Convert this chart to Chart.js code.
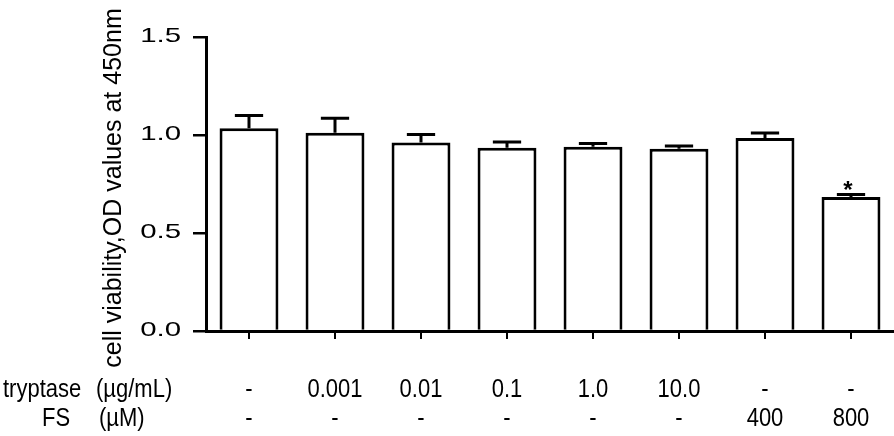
<!DOCTYPE html>
<html>
<head>
<meta charset="utf-8">
<script src="https://cdn.jsdelivr.net/npm/chart.js@4.4.0/dist/chart.umd.min.js"></script>
<style>
    html, body { margin: 0; padding: 0; background: #fff; }
    #wrap { width: 894px; height: 436px; position: relative; }
</style>
</head>
<body>
<div id="wrap"><canvas id="viabilityChart"></canvas></div>
<script>
/* ── Data ── */
const groups = ['g1', 'g2', 'g3', 'g4', 'g5', 'g6', 'g7', 'g8'];
const tryptaseDose = ['-', '0.001', '0.01', '0.1', '1.0', '10.0', '-', '-'];
const fsDose = ['-', '-', '-', '-', '-', '-', '400', '800'];
const meanOD = [1.035, 1.012, 0.962, 0.935, 0.940, 0.930, 0.985, 0.684];
const semOD = [0.065, 0.073, 0.040, 0.029, 0.017, 0.014, 0.025, 0.013];
const significance = ['', '', '', '', '', '', '', '*'];
const yTicks = [0, 0.5, 1.0, 1.5];

const FONT = '"Liberation Sans", Arial, sans-serif';

// text drawn with a non-uniform scale (the source figure was stretched)
function scaledText(ctx, text, x, y, sx, sy) {
    ctx.save();
    ctx.translate(x, y);
    ctx.scale(sx, sy);
    ctx.fillText(text, 0, 0);
    ctx.restore();
}

/* ── Error bars + asterisk ── */
const errorBarPlugin = {
    id: 'errorBars',
    afterDatasetsDraw(chart) {
        const { ctx } = chart;
        const y = chart.scales.y;
        const meta = chart.getDatasetMeta(0);
        ctx.save();
        ctx.strokeStyle = '#000';
        ctx.lineWidth = 3;
        meta.data.forEach((bar, i) => {
            const top = y.getPixelForValue(meanOD[i]);
            const cap = y.getPixelForValue(meanOD[i] + semOD[i]);
            const half = bar.width * 0.24;
            ctx.beginPath();
            ctx.moveTo(bar.x, top);
            ctx.lineTo(bar.x, cap);
            ctx.moveTo(bar.x - half, cap);
            ctx.lineTo(bar.x + half, cap);
            ctx.stroke();
            if (significance[i]) {
                ctx.fillStyle = '#000';
                ctx.font = 'bold 24px ' + FONT;
                ctx.textAlign = 'center';
                ctx.textBaseline = 'alphabetic';
                ctx.fillText(significance[i], bar.x - 3, cap + 4);
            }
        });
        ctx.restore();
    }
};

/* ── Y tick labels, y title, dose table ── */
const labelPlugin = {
    id: 'labels',
    afterDraw(chart) {
        const { ctx } = chart;
        const x = chart.scales.x;
        const y = chart.scales.y;
        ctx.save();
        ctx.fillStyle = '#000';

        // y tick labels, wide digits like the original
        ctx.font = '21px ' + FONT;
        ctx.textAlign = 'right';
        ctx.textBaseline = 'middle';
        yTicks.forEach(v => {
            scaledText(ctx, v.toFixed(1), 181, y.getPixelForValue(v) - 1, 1.4, 1);
        });

        // y axis title
        ctx.save();
        ctx.translate(121, 188);
        ctx.rotate(-Math.PI / 2);
        ctx.font = '25px ' + FONT;
        ctx.textAlign = 'center';
        ctx.textBaseline = 'alphabetic';
        ctx.fillText('cell viability,OD values at 450nm', 0, 0);
        ctx.restore();

        // dose table under the x axis (tall, slightly narrow)
        ctx.font = '22px ' + FONT;
        ctx.textBaseline = 'alphabetic';
        ctx.textAlign = 'left';
        scaledText(ctx, 'tryptase', 3, 397, 1.0, 1.15);
        scaledText(ctx, '(\u00b5g/mL)', 96, 397, 1.0, 1.15);
        scaledText(ctx, 'FS', 42, 426, 1.0, 1.15);
        scaledText(ctx, '(\u00b5M)', 99, 426, 1.0, 1.15);

        ctx.textAlign = 'center';
        groups.forEach((_, i) => {
            const px = x.getPixelForValue(i);
            scaledText(ctx, tryptaseDose[i], px, 397, 1.0, 1.15);
            scaledText(ctx, fsDose[i], px, 426, 1.0, 1.15);
        });
        ctx.restore();
    }
};

new Chart(document.getElementById('viabilityChart'), {
    type: 'bar',
    data: {
        labels: groups,
        datasets: [{
            data: meanOD,
            backgroundColor: '#fff',
            borderColor: '#000',
            borderWidth: 3,
            barPercentage: 0.685,
            categoryPercentage: 1.0
        }]
    },
    options: {
        responsive: true,
        maintainAspectRatio: false,
        animation: false,
        layout: { padding: { top: 37, left: 0, right: 0, bottom: 0 } },
        plugins: { legend: { display: false }, tooltip: { enabled: false } },
        scales: {
            x: {
                afterFit: s => { s.height = 105; },
                grid: {
                    offset: false,
                    drawOnChartArea: false,
                    drawTicks: true,
                    tickLength: 8,
                    color: '#000',
                    lineWidth: 2
                },
                border: { display: true, color: '#000', width: 3 },
                ticks: { display: false }
            },
            y: {
                min: 0,
                max: 1.5,
                afterFit: s => { s.width = 206; },
                afterBuildTicks: s => { s.ticks = yTicks.map(v => ({ value: v })); },
                grid: {
                    drawOnChartArea: false,
                    drawTicks: true,
                    tickLength: 13,
                    color: '#000',
                    lineWidth: 2.5
                },
                border: { display: true, color: '#000', width: 3 },
                ticks: { display: false }
            }
        }
    },
    plugins: [errorBarPlugin, labelPlugin]
});
</script>
</body>
</html>
